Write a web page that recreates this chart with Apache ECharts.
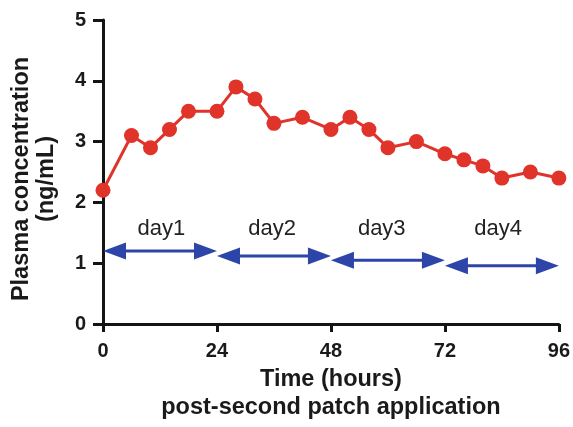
<!DOCTYPE html>
<html>
<head>
<meta charset="utf-8">
<script src="https://cdn.jsdelivr.net/npm/echarts@6/dist/echarts.min.js"></script>
<style>
html,body{margin:0;padding:0;background:#fff;}
#chart{width:573px;height:427px;}
</style>
</head>
<body>
<div id="chart"></div>
<script>
// Data
var hours = [0, 6, 10, 14, 18, 24, 28, 32, 36, 42, 48, 52, 56, 60, 66, 72, 76, 80, 84, 90, 96];
var conc  = [2.2, 3.1, 2.9, 3.2, 3.5, 3.5, 3.9, 3.7, 3.3, 3.4, 3.2, 3.4, 3.2, 2.9, 3.0, 2.8, 2.7, 2.6, 2.4, 2.5, 2.4];
var dayNames  = ['day1', 'day2', 'day3', 'day4'];
var dayStart  = [0, 24, 48, 72];
var dayEnd    = [24, 48, 72, 96];
var dayLevel  = [1.2, 1.12, 1.05, 0.96];
var labelHour = [12.3, 35.6, 58.7, 83.2];
var labelLevel = [1.56, 1.56, 1.56, 1.56];
var xTicks = [0, 24, 48, 72, 96];
var yTicks = [0, 1, 2, 3, 4, 5];

var FONT = '"Liberation Sans", Arial, Helvetica, sans-serif';
var RED = '#E0332A';
var BLUE = '#2D45A8';

var arrowData = dayStart.map(function (s, i) { return [s, dayEnd[i], dayLevel[i]]; });
var labelData = labelHour.map(function (h, i) { return [h, labelLevel[i], dayNames[i]]; });

var chart = echarts.init(document.getElementById('chart'), null, {renderer: 'canvas'});
chart.setOption({
  animation: false,
  backgroundColor: '#fff',
  grid: {left: 103, right: 12, top: 20, bottom: 99, containLabel: false},
  xAxis: {
    type: 'value', min: xTicks[0], max: xTicks[xTicks.length - 1], interval: 24,
    name: 'Time (hours)\npost-second patch application',
    nameLocation: 'middle', nameGap: 42,
    nameTextStyle: {fontFamily: FONT, fontWeight: 'bold', fontSize: 23.5, color: '#1a1a1a', lineHeight: 28},
    axisLine: {show: true, lineStyle: {color: '#141414', width: 3}},
    axisTick: {show: true, length: 8, lineStyle: {color: '#141414', width: 3}},
    axisLabel: {fontFamily: FONT, fontWeight: 'bold', fontSize: 20, color: '#1a1a1a', margin: 17},
    splitLine: {show: false}
  },
  yAxis: {
    type: 'value', min: yTicks[0], max: yTicks[yTicks.length - 1], interval: 1,
    name: 'Plasma concentration\n(ng/mL)',
    nameLocation: 'middle', nameGap: 44, nameRotate: 90,
    nameTextStyle: {fontFamily: FONT, fontWeight: 'bold', fontSize: 23.5, color: '#1a1a1a', lineHeight: 25,
                    padding: [0, 14, 0, 0]},
    axisLine: {show: true, lineStyle: {color: '#141414', width: 3}},
    axisTick: {show: true, length: 10, lineStyle: {color: '#141414', width: 3}},
    axisLabel: {fontFamily: FONT, fontWeight: 'bold', fontSize: 20, color: '#1a1a1a', margin: 17},
    splitLine: {show: false}
  },
  series: [
    {
      type: 'custom',
      data: arrowData,
      encode: {x: [0, 1], y: 2},
      z: 3,
      renderItem: function (params, api) {
        var p0 = api.coord([api.value(0), api.value(2)]);
        var p1 = api.coord([api.value(1), api.value(2)]);
        var L = 23, W = 8.5;
        return {
          type: 'group',
          children: [
            {type: 'line', shape: {x1: p0[0] + L - 2, y1: p0[1], x2: p1[0] - L + 2, y2: p1[1]},
             style: {stroke: BLUE, lineWidth: 3}},
            {type: 'polygon', shape: {points: [[p0[0], p0[1]], [p0[0] + L, p0[1] - W], [p0[0] + L, p0[1] + W]]},
             style: {fill: BLUE}},
            {type: 'polygon', shape: {points: [[p1[0], p1[1]], [p1[0] - L, p1[1] - W], [p1[0] - L, p1[1] + W]]},
             style: {fill: BLUE}}
          ]
        };
      }
    },
    {
      type: 'custom',
      data: labelData,
      encode: {x: 0, y: 1},
      z: 3,
      renderItem: function (params, api) {
        var p = api.coord([api.value(0), api.value(1)]);
        return {
          type: 'text',
          style: {x: p[0], y: p[1], text: labelData[params.dataIndex][2], fill: '#222',
                  font: 'normal 22px ' + FONT, textAlign: 'center', textVerticalAlign: 'middle'}
        };
      }
    },
    {
      type: 'line',
      data: hours.map(function (h, i) { return [h, conc[i]]; }),
      symbol: 'circle', symbolSize: 15,
      itemStyle: {color: RED},
      lineStyle: {color: RED, width: 3},
      z: 5
    }
  ]
});
</script>
</body>
</html>
